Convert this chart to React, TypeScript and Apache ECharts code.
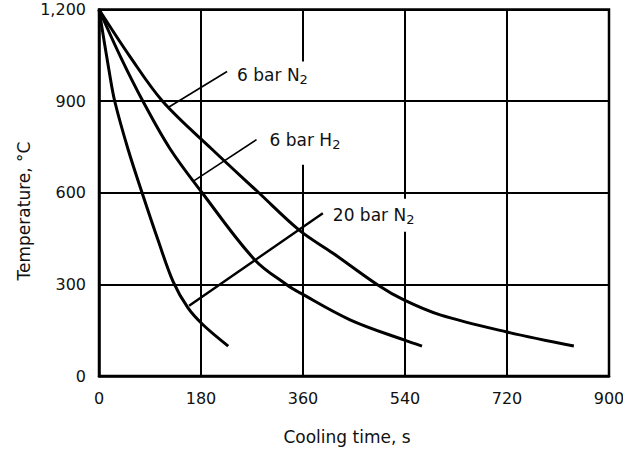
import { useEffect, useRef } from 'react';
import * as echarts from 'echarts';

// Cooling curves: [time s, temperature °C]
const curve20barN2: [number, number][] = [
  [0, 1200], [18, 997], [28, 898], [51, 744], [76, 600], [104, 446], [131, 308], [157, 223], [184, 167], [228, 98],
];
const curve6barH2: [number, number][] = [
  [0, 1200], [38, 1045], [78, 898], [125, 745], [182, 600], [275, 380], [332, 298], [355, 272], [443, 184], [538, 118], [570, 98],
];
const curve6barN2: [number, number][] = [
  [0, 1200], [55, 1045], [113, 898], [198, 745], [282, 600], [355, 475], [413, 402], [492, 298], [538, 249], [602, 200], [720, 144], [838, 98],
];

// Leader lines from each curve to its label: [start on curve, end at label]
const leader6barN2: [number, number][] = [[122, 879], [226, 997]];
const leader6barH2: [number, number][] = [[166, 637], [278, 774]];
const leader20barN2: [number, number][] = [[159, 230], [395, 533]];

// Axis ticks
const timeTicks = { min: 0, max: 900, step: 180 };
const tempTicks = { min: 0, max: 1200, step: 300 };

// Vertical grid segments [time, from °C, to °C]; some are broken to leave room for labels
const verticalGrid: [number, number, number][] = [
  [180, 0, 1200],
  [360, 0, 692], [360, 1030, 1200],
  [540, 0, 472], [540, 580, 1200],
  [720, 0, 1200],
];

const FONT = "'DejaVu Sans', sans-serif";
const INK = '#111';

function withThousands(v: number): string {
  const s = String(Math.round(v));
  return s.length > 3 ? s.slice(0, s.length - 3) + ',' + s.slice(s.length - 3) : s;
}

export default function App() {
  const ref = useRef<HTMLDivElement>(null);

  useEffect(() => {
    const chart = echarts.init(ref.current!, null, { renderer: 'svg' });

    const curveStyle = { color: '#000', width: 3 };
    const curveSeries = (name: string, data: [number, number][]) => ({
      name,
      type: 'line',
      data,
      symbol: 'none',
      smooth: 0.35,
      lineStyle: curveStyle,
      silent: true,
      z: 3,
    });
    const leaderSeries = (data: [number, number][], width: number) => ({
      type: 'line',
      data,
      symbol: 'none',
      silent: true,
      lineStyle: { color: '#000', width },
      z: 3,
    });

    chart.setOption({
      animation: false,
      grid: {
        left: 99,
        right: 14,
        top: 9.5,
        bottom: 76,
        show: true,
        borderColor: '#000',
        borderWidth: 2.5,
        outerBoundsMode: 'none',
      },
      xAxis: {
        type: 'value',
        min: timeTicks.min,
        max: timeTicks.max,
        interval: timeTicks.step,
        axisLine: { show: true, lineStyle: { color: '#000', width: 2.5 } },
        axisTick: { show: false },
        splitLine: { show: false },
        axisLabel: { color: INK, fontFamily: FONT, fontSize: 16, margin: 14 },
      },
      yAxis: {
        type: 'value',
        min: tempTicks.min,
        max: tempTicks.max,
        interval: tempTicks.step,
        axisLine: { show: true, lineStyle: { color: '#000', width: 2.5 } },
        axisTick: { show: false },
        splitLine: { show: true, lineStyle: { color: '#000', width: 2 } },
        axisLabel: {
          color: INK,
          fontFamily: FONT,
          fontSize: 16,
          margin: 13,
          padding: [8, 0, 0, 0],
          formatter: (v: number) => withThousands(v),
        },
      },
      series: [
        {
          name: 'grid',
          type: 'line',
          data: [],
          silent: true,
          markLine: {
            silent: true,
            symbol: ['none', 'none'],
            label: { show: false },
            lineStyle: { color: '#000', width: 2, type: 'solid' },
            emphasis: { disabled: true },
            data: verticalGrid.map(([t, a, b]) => [{ coord: [t, a] }, { coord: [t, b] }]),
          },
        },
        curveSeries('20 bar N2', curve20barN2),
        curveSeries('6 bar H2', curve6barH2),
        curveSeries('6 bar N2', curve6barN2),
        leaderSeries(leader6barN2, 1.6),
        leaderSeries(leader6barH2, 1.6),
        leaderSeries(leader20barN2, 2.4),
      ],
    });

    const toPx = (p: [number, number]) => chart.convertToPixel({ gridIndex: 0 }, p) as number[];
    const rich = {
      m: { fontSize: 17, fontFamily: FONT, fill: INK, lineHeight: 22 },
      s: { fontSize: 13, fontFamily: FONT, fill: INK, lineHeight: 22, verticalAlign: 'bottom' },
    };
    const curveLabel = (anchor: [number, number], dx: number, dy: number, text: string) => {
      const [x, y] = toPx(anchor);
      return {
        type: 'text',
        x: x + dx,
        y: y + dy,
        silent: true,
        z: 10,
        style: {
          text,
          rich,
          fill: INK,
          align: 'left',
          verticalAlign: 'middle',
        },
      };
    };

    chart.setOption({
      graphic: [
        curveLabel(leader6barN2[1], 10, 4, '{m|6 bar N}{s|2}'),
        curveLabel(leader6barH2[1], 13, 0, '{m|6 bar H}{s|2}'),
        curveLabel(leader20barN2[1], 10, 2, '{m|20 bar N}{s|2}'),
        {
          type: 'text',
          x: 24,
          y: 211,
          rotation: Math.PI / 2,
          silent: true,
          style: {
            text: 'Temperature, °C',
            fontFamily: FONT,
            fontSize: 17,
            fill: INK,
            align: 'center',
            verticalAlign: 'middle',
          },
        },
        {
          type: 'text',
          x: 347,
          y: 437,
          silent: true,
          style: {
            text: 'Cooling time, s',
            fontFamily: FONT,
            fontSize: 17,
            fill: INK,
            align: 'center',
            verticalAlign: 'middle',
          },
        },
      ],
    });

    return () => chart.dispose();
  }, []);

  return (
    <div
      ref={ref}
      style={{ position: 'fixed', left: 0, top: 0, width: 623, height: 452, background: '#fff' }}
    />
  );
}
